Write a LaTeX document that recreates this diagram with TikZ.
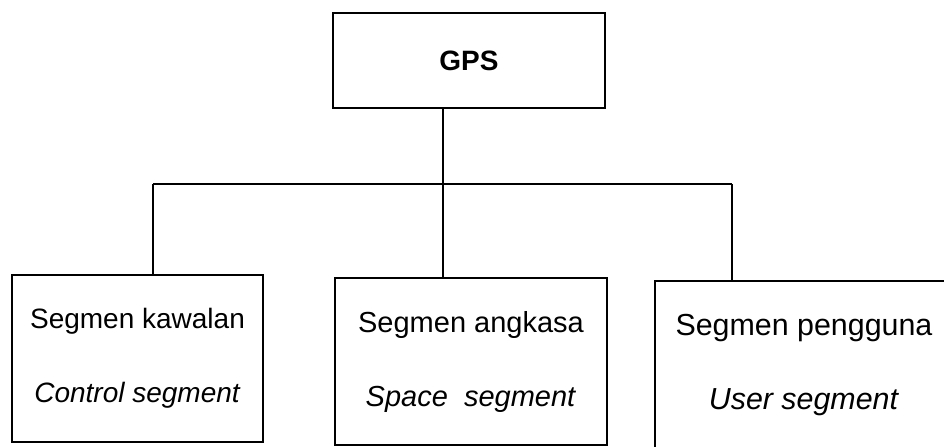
\documentclass[tikz,border=0pt]{standalone}
\usepackage{fontspec}
\setmainfont{Liberation Sans}
\usetikzlibrary{positioning}

\begin{document}
\begin{tikzpicture}[
    x = 0.5pt, y = -0.5pt,
    line width = 0.9pt,
    box/.style = {draw, line width=0.9pt, align=center,
        inner sep=0pt, outer sep=0mm,
        font=\fontsize{14}{17}\selectfont},
  ]
  \useasboundingbox (0,0) rectangle (944,446);

  \node[box, minimum width=136pt, minimum height=47.5pt,
    font=\fontsize{14}{17}\selectfont\bfseries] (gps) at (469,60.5) {GPS};

  \foreach \name/\cx/\cy/\w/\h/\fs/\top/\bot in {
      ctrl/137.5/358.5/125.5/83.5/14/Segmen kawalan/Control segment,
      space/471/361.5/136/83.5/14.5/Segmen angkasa/Space~ segment,
      user/804/365.5/149/84.5/15.2/Segmen pengguna/User segment}
  \node[box, minimum width=\w pt, minimum height=\h pt,
    font=\fontsize{\fs}{17}\selectfont] (\name) at (\cx,\cy)
    {\top\\[20pt]\textit{\bot}};

  \coordinate (hub) at (443,184);
  \coordinate (lj) at (153,184);
  \coordinate (rj) at (732,184);

  \draw (gps.south -| hub) -- (hub);
  \draw (lj) -- (rj);
  \draw (lj) -- (lj |- ctrl.north);
  \draw (hub) -- (hub |- space.north);
  \draw (rj) -- (rj |- user.north);
\end{tikzpicture}
\end{document}
